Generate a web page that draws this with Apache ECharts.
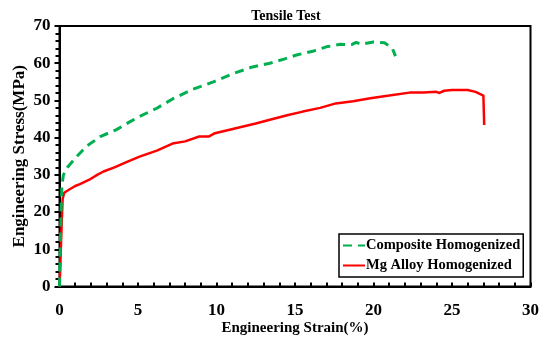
<!DOCTYPE html>
<html><head><meta charset="utf-8">
<script src="https://cdn.jsdelivr.net/npm/echarts@6/dist/echarts.min.js"></script>
<style>html,body{margin:0;padding:0;background:#fff}#c{width:540px;height:340px}</style>
</head><body><div id="c"></div>
<script>
var compositeStrain = [0, 0.05, 0.1, 0.15, 0.25, 0.5, 1.0, 1.7, 2.6, 3.6, 4.5, 5.1, 6.2, 7.2, 8.5, 9.8, 11.1, 12.3, 13.4, 14.3, 15.1, 16.2, 17.0, 17.9, 18.6, 18.9, 19.2, 20.0, 20.7, 21.2, 21.4];
var compositeStress = [0, 10, 20, 27, 30, 32, 34.5, 37.6, 40.3, 42.1, 44.3, 45.7, 47.9, 50.4, 53, 55, 57.3, 59, 60, 61.1, 62.2, 63.3, 64.4, 65.1, 65, 65.6, 65.1, 65.7, 65.5, 64, 61.9];
var alloyStrain = [0, 0.05, 0.1, 0.15, 0.2, 0.3, 0.6, 1.0, 1.3, 1.9, 2.4, 2.8, 3.5, 4.3, 5.1, 6.2, 7.2, 8.0, 8.9, 9.5, 9.9, 10.7, 11.5, 12.5, 13.4, 14.5, 15.5, 16.6, 17.6, 18.7, 19.8, 21.0, 22.3, 23.2, 24.0, 24.2, 24.5, 25.0, 26.0, 26.5, 27.0, 27.05, 27.05];
var alloyStress = [0, 5, 12, 18, 23.5, 25.2, 26, 27, 27.5, 28.7, 30, 30.9, 32, 33.5, 34.9, 36.5, 38.4, 39, 40.3, 40.3, 41.2, 42, 42.8, 43.8, 44.8, 46, 47, 48, 49.2, 49.8, 50.6, 51.3, 52.1, 52.1, 52.3, 52, 52.6, 52.8, 52.8, 52.3, 51.3, 51.2, 43.4];
var seriesNames = ['Composite Homogenized', 'Mg Alloy Homogenized'];

function pairs(xs, ys){ return xs.map(function(x,i){ return [x, ys[i]]; }); }
var FONT = '"Liberation Serif", "Times New Roman", serif';
var chart = echarts.init(document.getElementById('c'), null, {renderer:'canvas'});
chart.setOption({
  animation: false,
  backgroundColor: '#fff',
  title: {text: 'Tensile Test', left: 281, top: 4, textAlign: 'center',
    textStyle: {fontFamily: FONT, fontWeight: 'bold', fontSize: 14, color: '#000'}},
  grid: {left: 59.5, right: 9.5, top: 26, bottom: 53.5, show: true, borderColor: '#000', borderWidth: 2,
    backgroundColor: 'transparent', outerBoundsMode: 'none', containLabel: false},
  legend: {
    orient: 'vertical', left: 339, top: 234,
    backgroundColor: '#fff', borderColor: '#000', borderWidth: 1.5,
    padding: [4, 3, 4, 3], itemGap: 5, itemWidth: 22, itemHeight: 10,
    itemStyle: {opacity: 0},
    textStyle: {fontFamily: FONT, fontWeight: 'bold', fontSize: 14.5, color: '#000', padding: [0,0,0,-4]},
    data: seriesNames
  },
  xAxis: {
    type: 'value', min: 0, max: 30, interval: 5,
    name: 'Engineering Strain(%)', nameLocation: 'middle', nameGap: 34, nameMoveOverlap: false,
    nameTextStyle: {fontFamily: FONT, fontWeight: 'bold', fontSize: 15, color: '#000'},
    axisLine: {lineStyle: {color: '#000', width: 2}},
    axisTick: {show: true, inside: true, length: 4, lineStyle: {color: '#000', width: 2}},
    minorTick: {show: true, splitNumber: 5, length: 4, lineStyle: {color: '#000', width: 2}},
    axisLabel: {fontFamily: FONT, fontWeight: 'bold', fontSize: 17, color: '#000', margin: 16},
    splitLine: {show: false}
  },
  yAxis: {
    type: 'value', min: 0, max: 70, interval: 10,
    name: 'Engineering Stress(MPa)', nameLocation: 'middle', nameGap: 31, nameMoveOverlap: false,
    nameTextStyle: {fontFamily: FONT, fontWeight: 'bold', fontSize: 17, color: '#000'},
    axisLine: {lineStyle: {color: '#000', width: 2}},
    axisTick: {show: true, inside: false, length: 5, lineStyle: {color: '#000', width: 2}},
    minorTick: {show: true, splitNumber: 5, length: 4, lineStyle: {color: '#000', width: 2}},
    axisLabel: {fontFamily: FONT, fontWeight: 'bold', fontSize: 17, color: '#000', margin: 9},
    splitLine: {show: false}
  },
  series: [
    {name: seriesNames[0], type: 'line', data: pairs(compositeStrain, compositeStress), showSymbol: false, symbol: 'none',
     lineStyle: {color: '#00B050', width: 3, type: [9, 6]}, itemStyle: {color: '#00B050'}, z: 3},
    {name: seriesNames[1], type: 'line', data: pairs(alloyStrain, alloyStress), showSymbol: false, symbol: 'none',
     lineStyle: {color: '#FF0000', width: 2.5}, itemStyle: {color: '#FF0000'}, z: 2}
  ]
});
</script></body></html>
